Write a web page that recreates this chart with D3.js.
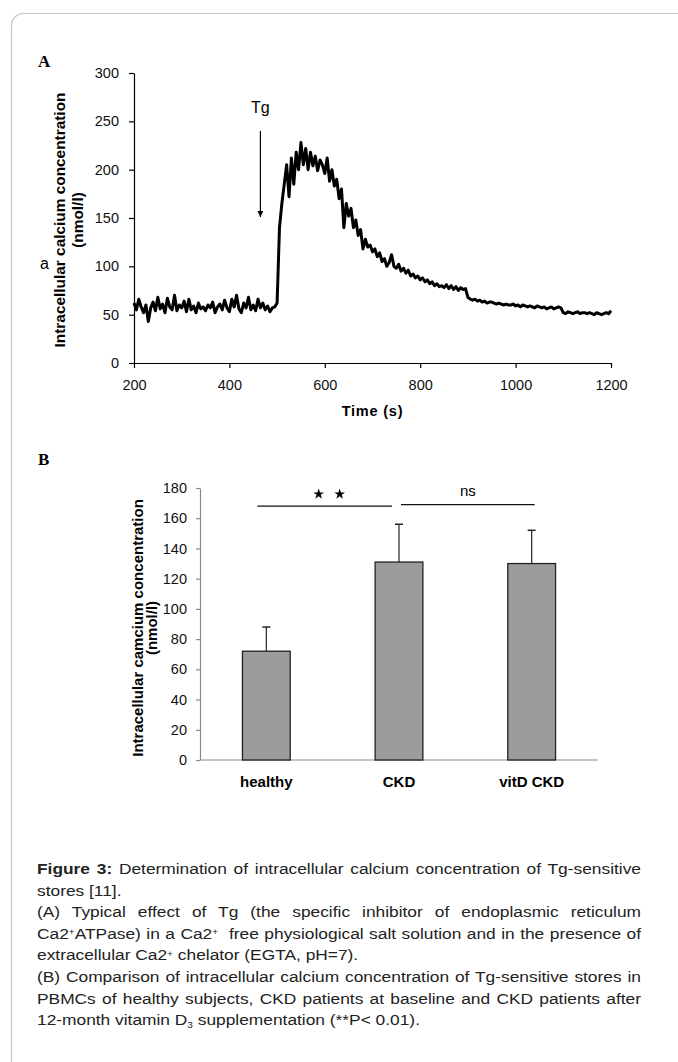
<!DOCTYPE html>
<html>
<head>
<meta charset="utf-8">
<script src="https://cdn.jsdelivr.net/npm/d3@7"></script>
<style>
  body { margin: 0; background: #fff; }
  svg text { font-family: "Liberation Sans", Arial, sans-serif; }
</style>
</head>
<body>
<div id="chart"></div>
<script>
// panel A: Tg trace, one sample every 5 s from 200 to 1200 s
const traceStart = 200
const traceStep = 5
const traceCa = [
  62,55,66,58,52,60,43,57,63,54,
  68,56,61,52,67,58,55,70,54,60,
  57,64,53,66,55,59,52,62,56,58,
  54,60,57,63,52,58,61,55,65,57,
  53,66,58,70,56,52,62,57,68,55,
  60,54,66,57,62,55,59,53,57,58,
  62,140,165,185,205,172,212,185,218,200,
  228,205,222,200,218,204,214,199,210,205,
  196,212,188,200,183,190,170,180,140,165,
  152,160,140,148,132,138,118,128,120,122,
  115,118,110,114,105,108,100,104,112,100,
  98,102,95,98,93,96,90,92,88,90,
  86,88,84,86,82,84,80,82,79,80,
  78,81,77,80,76,79,75,78,76,77,
  68,66,65,66,64,65,63,64,62,63,
  63,62,61,62,61,60,61,60,60,61,
  59,60,58,60,59,58,59,58,57,59,
  58,57,58,56,57,58,56,57,58,57,
  52,51,53,52,51,52,53,51,52,52,
  51,52,51,50,52,51,50,51,52,51,
  54
]
const timeTicks = [200, 400, 600, 800, 1000, 1200]
const caTicksA = [0, 50, 100, 150, 200, 250, 300]
const tgTime = 465

// panel B: bar chart
const groups = ['healthy', 'CKD', 'vitD CKD']
const means = [72, 131, 130]
const sds = [16, 25, 22]
const caTicksB = [0, 20, 40, 60, 80, 100, 120, 140, 160, 180]
const brackets = [
  { from: 'healthy', to: 'CKD', level: 168, label: 'stars' },
  { from: 'CKD', to: 'vitD CKD', level: 169, label: 'ns' }
]

const W = 678, H = 1062

const svg = d3.select('#chart').append('svg')
    .attr('width', W)
    .attr('height', H)

// page frame
svg.append('rect')
    .attr('x', 11.5).attr('y', 13.5)
    .attr('width', 720).attr('height', 1100)
    .attr('rx', 12)
    .attr('fill', 'none')
    .attr('stroke', '#c4c4c4')
    .attr('stroke-width', 1.2)

// ---------- panel A ----------
const xA = d3.scaleLinear().domain([200, 1200]).range([134, 611])
const yA = d3.scaleLinear().domain([0, 300]).range([363, 73])

svg.append('text')
    .attr('x', 38).attr('y', 67)
    .style('font-family', '"Liberation Serif", "Times New Roman", serif')
    .style('font-weight', 'bold')
    .style('font-size', '17px')
    .text('A')

const gxA = svg.append('g')
    .attr('transform', 'translate(0,' + yA(0) + ')')
    .call(d3.axisBottom(xA).tickValues(timeTicks).tickFormat(d3.format('d'))
        .tickSize(5).tickSizeOuter(0).tickPadding(12))
const gyA = svg.append('g')
    .attr('transform', 'translate(' + xA(200) + ',0)')
    .call(d3.axisLeft(yA).tickValues(caTicksA).tickSize(5).tickSizeOuter(0).tickPadding(10))
;[gxA, gyA].forEach(g => {
    g.selectAll('path, line').attr('stroke', '#000').attr('stroke-width', 1.2)
    g.selectAll('text').style('font-size', '14.5px').attr('fill', '#111')
        .style('font-family', '"Liberation Sans", Arial, sans-serif')
})

svg.append('text')
    .attr('x', (xA(200) + xA(1200)) / 2).attr('y', 416)
    .attr('text-anchor', 'middle')
    .style('font-weight', 'bold').style('font-size', '14.5px')
    .style('letter-spacing', '0.8px')
    .text('Time (s)')

const yLabA = svg.append('g').attr('transform', 'translate(0,' + 220 + ') rotate(-90)')
yLabA.append('text').attr('x', 0).attr('y', 65)
    .attr('text-anchor', 'middle')
    .style('font-weight', 'bold').style('font-size', '15.4px')
    .text('Intracellular calcium concentration')
yLabA.append('text').attr('x', 0).attr('y', 83)
    .attr('text-anchor', 'middle')
    .style('font-weight', 'bold').style('font-size', '15.4px')
    .text('(nmol/l)')
svg.append('text').attr('x', 40).attr('y', 269)
    .style('font-size', '16px').text('a')

const traceData = traceCa.map((v, i) => [traceStart + i * traceStep, v])
const line = d3.line()
    .x(d => xA(d[0]))
    .y(d => yA(d[1]))
svg.append('path')
    .datum(traceData)
    .attr('d', line)
    .attr('fill', 'none')
    .attr('stroke', '#000')
    .attr('stroke-width', 3)
    .attr('stroke-linejoin', 'round')

// Tg arrow
svg.append('defs').append('marker')
    .attr('id', 'arrow')
    .attr('viewBox', '0 0 10 10')
    .attr('refX', 10).attr('refY', 5)
    .attr('markerWidth', 5).attr('markerHeight', 5)
    .attr('orient', 'auto')
  .append('path')
    .attr('d', 'M0,0 L10,5 L0,10 z')
    .attr('fill', '#000')
svg.append('line')
    .attr('x1', xA(tgTime)).attr('x2', xA(tgTime))
    .attr('y1', yA(240)).attr('y2', yA(151))
    .attr('stroke', '#000').attr('stroke-width', 1.2)
    .attr('marker-end', 'url(#arrow)')
svg.append('text')
    .attr('x', xA(tgTime)).attr('y', yA(259))
    .attr('text-anchor', 'middle')
    .style('font-size', '16px')
    .text('Tg')

// ---------- panel B ----------
const xB = d3.scaleBand().domain(groups).range([200, 598]).paddingInner(0.64).paddingOuter(0.32)
const yB = d3.scaleLinear().domain([0, 180]).range([760, 488])

svg.append('text')
    .attr('x', 38).attr('y', 465)
    .style('font-family', '"Liberation Serif", "Times New Roman", serif')
    .style('font-weight', 'bold')
    .style('font-size', '17px')
    .text('B')

const gyB = svg.append('g')
    .attr('transform', 'translate(200,0)')
    .call(d3.axisLeft(yB).tickValues(caTicksB).tickSize(4).tickSizeOuter(0).tickPadding(9))
gyB.selectAll('path, line').attr('stroke', '#8a8a8a').attr('stroke-width', 1.2)
gyB.selectAll('text').style('font-size', '14.5px').attr('fill', '#111')

svg.append('line')
    .attr('x1', 200).attr('x2', 598)
    .attr('y1', yB(0)).attr('y2', yB(0))
    .attr('stroke', '#8a8a8a').attr('stroke-width', 1.2)

svg.selectAll('.bar')
    .data(groups)
    .enter().append('rect')
    .attr('class', 'bar')
    .attr('x', d => xB(d))
    .attr('width', xB.bandwidth())
    .attr('y', (d, i) => yB(means[i]))
    .attr('height', (d, i) => yB(0) - yB(means[i]))
    .attr('fill', '#9b9d9d')
    .attr('stroke', '#222')
    .attr('stroke-width', 1.3)

groups.forEach((g, i) => {
    const cx = xB(g) + xB.bandwidth() / 2
    svg.append('line')
        .attr('x1', cx).attr('x2', cx)
        .attr('y1', yB(means[i])).attr('y2', yB(means[i] + sds[i]))
        .attr('stroke', '#222').attr('stroke-width', 1.2)
    svg.append('line')
        .attr('x1', cx - 4).attr('x2', cx + 4)
        .attr('y1', yB(means[i] + sds[i])).attr('y2', yB(means[i] + sds[i]))
        .attr('stroke', '#222').attr('stroke-width', 1.5)
    svg.append('text')
        .attr('x', cx).attr('y', 787)
        .attr('text-anchor', 'middle')
        .style('font-weight', 'bold').style('font-size', '15px')
        .text(g)
})

const yLabB = svg.append('g').attr('transform', 'translate(0,' + 628 + ') rotate(-90)')
yLabB.append('text').attr('x', 0).attr('y', 143)
    .attr('text-anchor', 'middle')
    .style('font-weight', 'bold').style('font-size', '15px')
    .text('Intracellular camcium concentration')
yLabB.append('text').attr('x', 0).attr('y', 157)
    .attr('text-anchor', 'middle')
    .style('font-weight', 'bold').style('font-size', '15px')
    .text('(nmol/l)')

// significance brackets
brackets.forEach((b, i) => {
    const x1 = xB(b.from) + xB.bandwidth() / 2 + (i === 0 ? -9 : 2)
    const x2 = xB(b.to) + xB.bandwidth() / 2 + (i === 0 ? -7 : 3)
    svg.append('line')
        .attr('x1', x1).attr('x2', x2)
        .attr('y1', yB(b.level)).attr('y2', yB(b.level))
        .attr('stroke', '#111').attr('stroke-width', 1.3)
    const mid = (x1 + x2) / 2
    if (b.label === 'stars') {
        [-6, 15].forEach(dx => {
            svg.append('path')
                .attr('d', d3.symbol(d3.symbolStar, 36)())
                .attr('transform', 'translate(' + (mid + dx) + ',' + (yB(b.level) - 12) + ')')
                .attr('fill', '#000')
        })
    } else {
        svg.append('text')
            .attr('x', mid).attr('y', yB(b.level) - 9)
            .attr('text-anchor', 'middle')
            .style('font-size', '15px')
            .text(b.label)
    }
})

// ---------- caption ----------
const capLines = [
    { j: true, parts: [{ t: 'Figure 3:', b: 1 }, { t: ' Determination of intracellular calcium concentration of Tg-sensitive' }] },
    { j: false, parts: [{ t: 'stores [11].' }] },
    { j: true, parts: [{ t: '(A) Typical effect of Tg (the specific inhibitor of endoplasmic reticulum' }] },
    { j: true, parts: [{ t: 'Ca2' }, { t: '+', s: 'super' }, { t: 'ATPase) in a Ca2' }, { t: '+', s: 'super' }, { t: '  free physiological salt solution and in the presence of' }] },
    { j: false, parts: [{ t: 'extracellular Ca2' }, { t: '+', s: 'super' }, { t: ' chelator (EGTA, pH=7).' }] },
    { j: true, parts: [{ t: '(B) Comparison of intracellular calcium concentration of Tg-sensitive stores in' }] },
    { j: true, parts: [{ t: 'PBMCs of healthy subjects, CKD patients at baseline and CKD patients after' }] },
    { j: false, parts: [{ t: '12-month vitamin D' }, { t: '3', s: 'sub' }, { t: ' supplementation (**P< 0.01).' }] }
]
// caption glyphs in the picture are a little wider than tall, so stretch horizontally
const capX = 37, capRight = 641, capY0 = 874, capDy = 21.6, capSx = 1.12
const cap = svg.append('g').attr('transform', 'translate(' + capX + ',0) scale(' + capSx + ',1)')
capLines.forEach((ln, i) => {
    const t = cap.append('text')
        .attr('x', 0).attr('y', capY0 + i * capDy)
        .style('font-family', '"Liberation Sans", Arial, sans-serif')
        .style('font-size', '15.5px')
        .attr('fill', '#222')
        .attr('xml:space', 'preserve')
    ln.parts.forEach(p => {
        const ts = t.append('tspan').text(p.t)
        if (p.b) ts.style('font-weight', 'bold')
        if (p.s === 'super') ts.attr('baseline-shift', '40%').style('font-size', '9px')
        if (p.s === 'sub') ts.attr('baseline-shift', '-25%').style('font-size', '9px')
    })
    if (ln.j) {
        const w = t.node().getComputedTextLength()
        const spaces = ln.parts.map(p => p.t).join('').split(' ').length - 1
        const ws = ((capRight - capX) / capSx - w) / spaces
        t.style('word-spacing', ws + 'px')
    }
})
</script>
</body>
</html>
